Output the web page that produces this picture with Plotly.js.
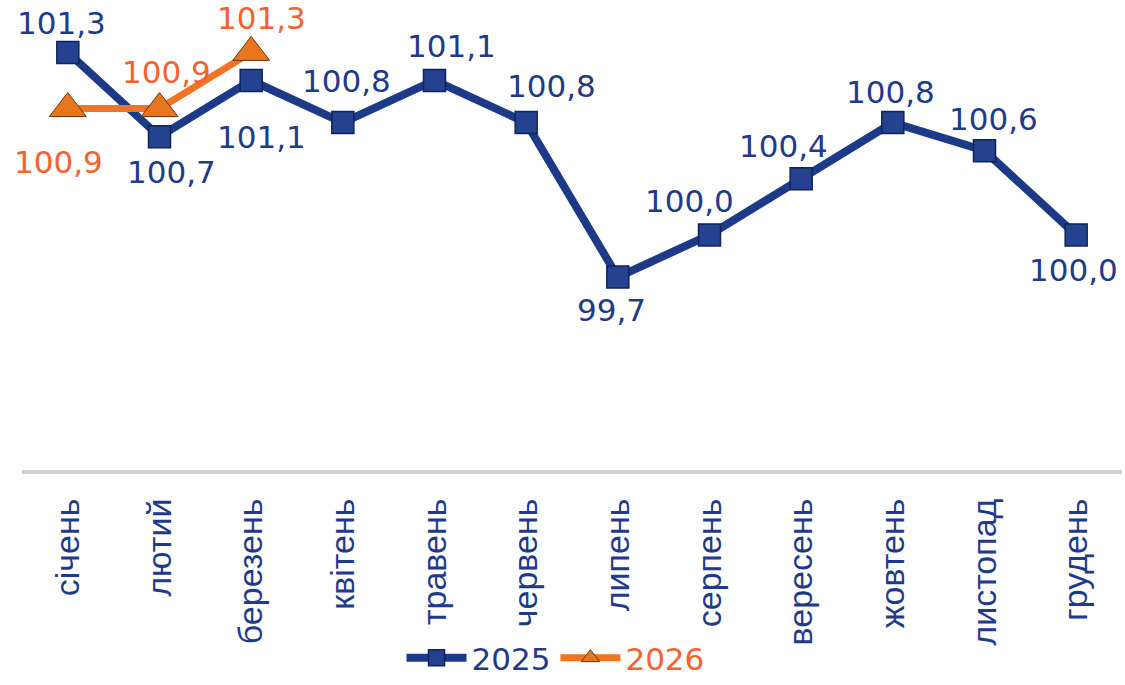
<!DOCTYPE html>
<html>
<head>
<meta charset="utf-8">
<script src="https://cdn.plot.ly/plotly-3.0.1.min.js"></script>
<style>html,body{margin:0;padding:0;background:#fff;}#chart{width:1125px;height:685px;}</style>
</head>
<body>
<div id="chart"></div>
<script>
const months = ['січень','лютий','березень','квітень','травень','червень','липень','серпень','вересень','жовтень','листопад','грудень'];
const values2025 = [101.3, 100.7, 101.1, 100.8, 101.1, 100.8, 99.7, 100.0, 100.4, 100.8, 100.6, 100.0];
const values2026 = [100.9, 100.9, 101.3];
const labels2025 = ['101,3','100,7','101,1','100,8','101,1','100,8','99,7','100,0','100,4','100,8','100,6','100,0'];
const labels2026 = ['100,9','100,9','101,3'];
// label offsets in pixels [xshift, yshift]
const offs2025 = [[-6,29],[12,-35],[10,-57],[4,42],[17,34],[25,37],[-6,-33],[-20,34],[-18,33],[-2,31],[9,32],[-3,-35]];
const offs2026 = [[-9,-53],[7,37],[10,34]];

const blue = '#1c3a88';
const orange = '#f07424';
const blueText = '#1f3a8a';
const orangeText = '#f4622e';

const traces = [
  {
    x: months, y: values2025, type: 'scatter', mode: 'lines+markers',
    name: '<span style="color:' + blueText + '">2025</span>',
    line: {color: blue, width: 8},
    marker: {symbol: 'square', size: 22, color: '#24428f', line: {color: '#0e2358', width: 1.5}}
  },
  {
    x: months.slice(0, values2026.length), y: values2026, type: 'scatter', mode: 'lines+markers',
    name: '<span style="color:' + orangeText + '">2026</span>',
    line: {color: orange, width: 7},
    marker: {symbol: 'triangle-up', size: 32, color: '#e8761e', line: {color: '#6b3510', width: 1}}
  }
];

const annotations = [];
values2025.forEach((v, i) => annotations.push({
  x: months[i], y: v, xref: 'x', yref: 'y', text: labels2025[i], showarrow: false,
  xshift: offs2025[i][0], yshift: offs2025[i][1],
  font: {family: 'DejaVu Sans', size: 31, color: blueText}
}));
values2026.forEach((v, i) => annotations.push({
  x: months[i], y: v, xref: 'x', yref: 'y', text: labels2026[i], showarrow: false,
  xshift: offs2026[i][0], yshift: offs2026[i][1],
  font: {family: 'DejaVu Sans', size: 31, color: orangeText}
}));

const layout = {
  width: 1125, height: 685,
  margin: {l: 22, r: 3, t: 0, b: 210, pad: 0},
  paper_bgcolor: '#fff', plot_bgcolor: '#fff',
  showlegend: true,
  legend: {
    orientation: 'h', x: 0.485, xanchor: 'center', y: -0.4, yanchor: 'middle',
    font: {family: 'DejaVu Sans', size: 31, color: blueText},
    itemwidth: 60, tracegroupgap: 0, bgcolor: 'rgba(0,0,0,0)'
  },
  xaxis: {
    type: 'category', range: [-0.5, 11.5], showgrid: false, zeroline: false,
    showline: true, linecolor: '#d0d0d0', linewidth: 4,
    ticks: '', tickangle: -90, ticklabelstandoff: 11,
    tickfont: {family: 'Liberation Sans', size: 34, color: blueText},
    fixedrange: true
  },
  yaxis: {
    range: [98.326, 101.673], showgrid: false, zeroline: false,
    showline: false, showticklabels: false, ticks: '', fixedrange: true
  },
  annotations: annotations
};

Plotly.newPlot('chart', traces, layout, {displayModeBar: false, staticPlot: true});
</script>
</body>
</html>
